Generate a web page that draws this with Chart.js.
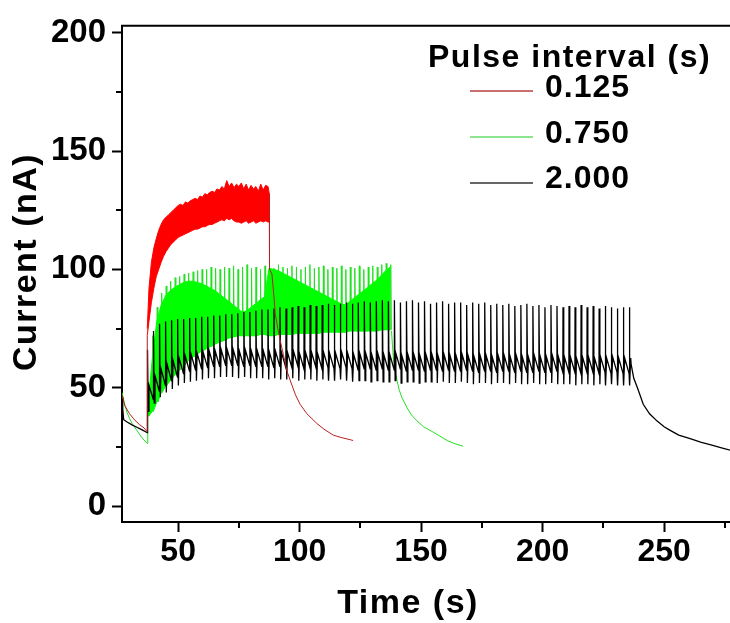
<!DOCTYPE html>
<html><head><meta charset="utf-8">
<script src="https://cdn.jsdelivr.net/npm/chart.js@4/dist/chart.umd.min.js"></script>
<style>html,body{margin:0;padding:0;background:#fff;}#wrap{width:730px;height:623px;}</style>
</head><body><div id="wrap"><canvas id="c" width="730" height="623"></canvas></div>
<script>
// ---------- data ----------
const xTicks = [50, 100, 150, 200, 250];
const xMinorTicks = [75, 125, 175, 225, 275];
const yTicks = [0, 50, 100, 150, 200];
const yMinorTicks = [25, 75, 125, 175];
const seriesNames = ['0.125', '0.750', '2.000'];

// 0.125 s series
const redPreT = [26.9, 28, 30, 32, 34, 36, 37.2, 37.3];
const redPreV = [47, 42.5, 39, 36.5, 34.5, 33, 31.5, 72];
const redBandT = [37.3, 38, 39, 40, 41, 42, 43, 44, 45, 46, 47, 48, 49, 50, 51, 52, 53, 54, 55, 56,
  57, 58, 59, 60, 61, 62, 63, 64, 65, 66, 67, 68, 69, 70, 71, 72, 73, 74, 75, 76,
  77, 78, 79, 80, 81, 82, 83, 84, 85, 86, 87, 87.5];
const redBandUpper = [75, 92, 103, 109, 113, 116.5, 119, 121, 122, 123, 124, 125, 126, 127, 127.5, 127, 128.5, 128, 129, 129.5,
  130, 129.5, 131, 130.5, 132, 131.5, 132.5, 133, 132.5, 134, 133.5, 135, 134, 137.5, 135, 136.5, 134.5, 136, 135, 136.5,
  134, 136, 133.5, 135.5, 134, 135, 133, 136, 133.5, 135.5, 135, 132];
const redBandLower = [72, 78, 86, 92, 97, 100, 103, 105.5, 107.5, 109, 110.5, 111.5, 112.5, 113.5, 114, 114.5, 115, 115.5, 116, 116.5,
  117, 117, 117.5, 118, 118, 118.5, 119, 119, 119.5, 120, 120.5, 121, 120.5, 121.5, 121, 121.5, 120.5, 120, 120, 119.5,
  120, 120.5, 119.5, 120, 120.5, 119.5, 120, 120.5, 120, 120.5, 120, 120];
const redTailT = [87.5, 87.6, 88.6, 89.3, 90, 91, 92, 93.3, 94.8, 96.5, 98.3, 100.2, 103, 107, 110, 113.8, 117, 121, 122];
const redTailV = [132, 100, 98, 90, 81, 75, 70, 64, 57, 52, 47, 43, 39, 35, 32.5, 30, 29, 28, 27.7];

// 0.750 s series
const greenPreT = [26.9, 28, 29, 30, 31, 33, 35, 37.2, 37.5];
const greenPreV = [48, 43, 39.5, 37, 35, 32, 29, 26.5, 38];
const greenStart = 37.5, greenPeriod = 1.848;
const greenSpike = [46, 72, 84, 90, 93, 95, 96.5, 97, 98, 98.5,
  99, 99.5, 100, 100, 101, 100.5, 100, 101, 100.5, 101.5,
  100, 101, 102, 100.5, 101, 100, 101.5, 101, 100.5, 102,
  101, 100.5, 101.5, 101, 100, 101, 102, 100.5, 101, 101.5,
  100, 101, 100.5, 101.5, 100, 101, 100.5, 101.5, 100, 101,
  101.5, 101, 102, 102.5, 102];
const greenUpper = [42, 62, 78, 85, 89, 91, 92.5, 93.5, 94.5, 95,
  95, 94.5, 94, 93, 92, 91, 89.5, 88, 86.5, 85,
  83.5, 82, 82.5, 84, 85.5, 87, 88.5, 100.5, 100, 99.5,
  98.5, 97.5, 96.5, 95.5, 94.5, 93.5, 92.5, 91.5, 90.5, 89.5,
  88.5, 87.5, 86.5, 85.5, 85, 86.5, 88, 89.5, 91, 92.5,
  94, 95.5, 97.5, 99.5, 101];
const greenLower = [38, 40, 44, 48, 51, 53, 55.5, 57.5, 59.5, 61.5,
  63, 64.5, 65.5, 66.5, 67.5, 68.5, 69.5, 70, 71, 71.5,
  72, 72, 72, 72, 72, 72.5, 72.5, 72, 72, 72.5,
  72.5, 72.5, 72.5, 73, 73, 73, 73, 73, 73, 73.5,
  73.5, 73.5, 73.5, 73.5, 73.5, 74, 74, 74, 74, 74,
  74, 74, 74.5, 74.5, 74.5];
const greenTailT = [137.8, 138.2, 138.6, 139.3, 140.1, 141, 142, 144.2, 146, 148.3, 151, 153.7, 157, 160.7, 164, 167.3];
const greenTailV = [74, 68, 62, 57, 53, 49, 46, 41.6, 38.5, 36, 33.5, 32, 30, 27.7, 26.3, 25.3];

// 2.000 s series
const blackPreT = [26.9, 27.2, 27.6, 29, 31, 33, 35, 37.3];
const blackPreV = [46, 41, 36.5, 35.5, 34.3, 33.3, 32.3, 31];
const blackStart = 37.4, blackPeriod = 2.478;
const blackPeak = [66, 74, 77, 78, 78.5, 79, 79, 79.5, 79.5, 80,
  80, 80.5, 80.5, 81, 81, 81.5, 82, 82, 82.5, 83,
  83, 83.5, 84, 83.5, 84, 84.5, 84, 85, 84.5, 85,
  85.5, 85, 85.5, 86, 85.5, 86, 86.5, 86, 86.5, 87,
  86.5, 87, 86, 86.5, 87, 86, 86.5, 85.5, 86, 86.5,
  85.5, 86, 86, 85, 86, 85.5, 86, 85, 85.5, 85,
  85.5, 84.5, 85, 85.5, 84.5, 85, 84, 85, 84.5, 84,
  84.5, 84, 85, 84, 84.5, 83.5, 84.5, 84, 83.5, 84, 84];
const blackDip = [40, 43.5, 46, 48, 49.5, 51, 52, 52.5, 53, 53.5,
  54, 54, 54.5, 54.5, 54.5, 54, 54.5, 54, 54, 54,
  53.5, 54, 53.5, 53.5, 54, 53, 53.5, 53.5, 53, 53.5,
  53, 53, 53.5, 53, 52.5, 53, 53, 52.5, 53, 52.5,
  52.5, 53, 52, 52.5, 52.5, 52, 52.5, 52.5, 52, 52.5,
  52, 52, 52.5, 52, 51.5, 52, 52, 51.5, 52, 52,
  51.5, 52, 51.5, 51.5, 52, 51.5, 51.5, 52, 51.5, 51.5,
  51.5, 51, 51.5, 51.5, 51, 51.5, 51, 51.5, 51, 51, 51];
const blackRebound = [51, 55, 58, 60, 61.5, 62.5, 63.5, 64, 64.5, 65,
  65.5, 65.5, 66, 66, 66, 65.5, 66, 65.5, 65.5, 65.5,
  65, 65.5, 65, 65, 65.5, 64.5, 65, 65, 64.5, 65,
  64.5, 64.5, 65, 64.5, 64, 64.5, 64.5, 64, 64.5, 64,
  64, 64.5, 63.5, 64, 64, 63.5, 64, 64, 63.5, 64,
  63.5, 63.5, 64, 63.5, 63, 63.5, 63.5, 63, 63.5, 63.5,
  63, 63.5, 63, 63, 63.5, 63, 63, 63.5, 63, 63,
  63, 62.5, 63, 63, 62.5, 63, 62.5, 63, 62.5, 62.5, 62.5];
const blackBase = [45, 48.5, 51, 53, 54.5, 56, 57, 57.5, 58, 58.5,
  59, 59, 59.5, 59.5, 59.5, 59, 59.5, 59, 59, 59,
  58.5, 59, 58.5, 58.5, 59, 58, 58.5, 58.5, 58, 58.5,
  58, 58, 58.5, 58, 57.5, 58, 58, 57.5, 58, 57.5,
  57.5, 58, 57, 57.5, 57.5, 57, 57.5, 57.5, 57, 57.5,
  57, 57, 57.5, 57, 56.5, 57, 57, 56.5, 57, 57,
  56.5, 57, 56.5, 56.5, 57, 56.5, 56.5, 57, 56.5, 56.5,
  56.5, 56, 56.5, 56.5, 56, 56.5, 56, 56.5, 56, 56, 56];
const blackTailT = [236.4, 237.5, 239, 241.4, 244, 247, 250, 252.5, 256, 260.7, 265, 270, 274, 277.5];
const blackTailV = [60, 54, 50, 43, 39, 36, 33.5, 32, 30, 28.5, 27, 25.6, 24.5, 23.5];

// ---------- build point lists ----------
const pts = (ts, vs) => ts.map((t, i) => ({x: t, y: vs[i]}));
const greenTimes = greenSpike.map((_, i) => greenStart + i * greenPeriod);
const greenSpikePts = [];
greenTimes.forEach((t, i) => {
  greenSpikePts.push({x: t, y: greenLower[i]}, {x: t + 0.2, y: greenSpike[i]}, {x: t + 0.45, y: greenLower[i]});
});
const blackPts = pts(blackPreT, blackPreV);
blackPeak.forEach((p, i) => {
  const t = blackStart + i * blackPeriod;
  blackPts.push({x: t, y: p}, {x: t + 0.3, y: blackDip[i]}, {x: t + 0.6, y: blackRebound[i]});
  if (i < blackPeak.length - 1) blackPts.push({x: t + blackPeriod - 0.06, y: blackBase[i]});
});
pts(blackTailT, blackTailV).forEach(p => blackPts.push(p));

const RED = '#ff0000', RED_DARK = '#b52020', GREEN = '#00ff00', GREEN_LINE = '#22e022', BLACK = '#000000';
const lineDs = (data, color, order, extra) => Object.assign({data, borderColor: color, backgroundColor: color,
  borderWidth: 1, pointRadius: 0, tension: 0, fill: false, order}, extra || {});

const datasets = [
  lineDs(pts(redBandT, redBandUpper), RED, 1, {fill: '+1', backgroundColor: RED}),   // 0
  lineDs(pts(redBandT, redBandLower), RED, 1),                                       // 1
  lineDs(pts(redPreT, redPreV), RED_DARK, 1),                                        // 2
  lineDs(pts(redTailT, redTailV), RED_DARK, 1),                                      // 3
  lineDs(blackPts, BLACK, 2, {borderWidth: 1.3}),                                    // 4
  lineDs(pts(greenTimes, greenUpper), GREEN, 3, {fill: '+1', backgroundColor: GREEN}), // 5
  lineDs(pts(greenTimes, greenLower), GREEN, 3),                                     // 6
  lineDs(greenSpikePts, GREEN_LINE, 3),                                              // 7
  lineDs(pts(greenPreT, greenPreV), GREEN_LINE, 3),                                  // 8
  lineDs(pts(greenTailT, greenTailV), GREEN_LINE, 3)                                 // 9
];

const FONT = "'Liberation Sans', Arial, sans-serif";
const legendItems = [
  {label: seriesNames[0], color: '#b84040'},
  {label: seriesNames[1], color: '#66dd66'},
  {label: seriesNames[2], color: '#333333'}
];

const decor = {
  id: 'decor',
  afterDraw(chart) {
    const ctx = chart.ctx, a = chart.chartArea, xs = chart.scales.x, ys = chart.scales.y;
    ctx.save();
    ctx.strokeStyle = '#000'; ctx.lineWidth = 2;
    // top frame line
    ctx.beginPath(); ctx.moveTo(a.left - 1, a.top); ctx.lineTo(a.right, a.top); ctx.stroke();
    // minor ticks
    ctx.beginPath();
    yMinorTicks.forEach(v => { const y = Math.round(ys.getPixelForValue(v)); ctx.moveTo(a.left - 6, y); ctx.lineTo(a.left, y); });
    xMinorTicks.forEach(v => { const x = Math.round(xs.getPixelForValue(v)); ctx.moveTo(x, a.bottom); ctx.lineTo(x, a.bottom + 6); });
    ctx.stroke();
    // legend
    ctx.fillStyle = '#000';
    ctx.textBaseline = 'alphabetic';
    ctx.textAlign = 'left';
    ctx.font = 'bold 32px ' + FONT;
    ctx.letterSpacing = '1.5px';
    ctx.fillText('Pulse interval (s)', 428, 67);
    ctx.letterSpacing = '1px';
    const rows = [97, 143, 188];
    const lines = [91, 137, 183];
    legendItems.forEach((it, i) => {
      ctx.strokeStyle = it.color; ctx.lineWidth = 1.5;
      ctx.beginPath(); ctx.moveTo(470, lines[i]); ctx.lineTo(533, lines[i]); ctx.stroke();
      ctx.fillStyle = '#000';
      ctx.fillText(it.label, 545, rows[i]);
    });
    // axis titles
    ctx.font = 'bold 34px ' + FONT;
    ctx.textAlign = 'center'; ctx.textBaseline = 'middle';
    ctx.letterSpacing = '1.5px';
    ctx.fillText('Time (s)', 408, 604);
    ctx.translate(27, 262); ctx.rotate(-Math.PI / 2);
    ctx.fillText('Current (nA)', 0, 0);
    ctx.restore();
  }
};

new Chart(document.getElementById('c'), {
  type: 'line',
  data: {datasets},
  plugins: [decor],
  options: {
    responsive: false, devicePixelRatio: 1, animation: false, parsing: true, normalized: true,
    layout: {padding: {left: 0, top: 23, right: 0, bottom: 0}},
    plugins: {legend: {display: false}, tooltip: {enabled: false}},
    elements: {line: {borderJoinStyle: 'miter'}},
    scales: {
      x: {
        type: 'linear', min: 26.9, max: 277.1,
        afterFit(s) { s.height = 101; },
        afterBuildTicks(s) { s.ticks = xTicks.map(v => ({value: v})); },
        grid: {display: true, drawOnChartArea: false, drawTicks: true, tickLength: 10, tickWidth: 2, color: '#000'},
        border: {display: true, width: 2, color: '#000'},
        ticks: {color: '#000', padding: 1, maxRotation: 0, autoSkip: false, font: {family: FONT, size: 32, weight: 'bold'}}
      },
      y: {
        type: 'linear', min: -6.72, max: 202.9,
        afterFit(s) { s.width = 122; },
        afterBuildTicks(s) { s.ticks = yTicks.map(v => ({value: v})); },
        grid: {display: true, drawOnChartArea: false, drawTicks: true, tickLength: 10, tickWidth: 2, color: '#000'},
        border: {display: true, width: 2, color: '#000'},
        ticks: {color: '#000', padding: 6, autoSkip: false, font: {family: FONT, size: 33, weight: 'bold'}}
      }
    }
  }
});
</script></body></html>
